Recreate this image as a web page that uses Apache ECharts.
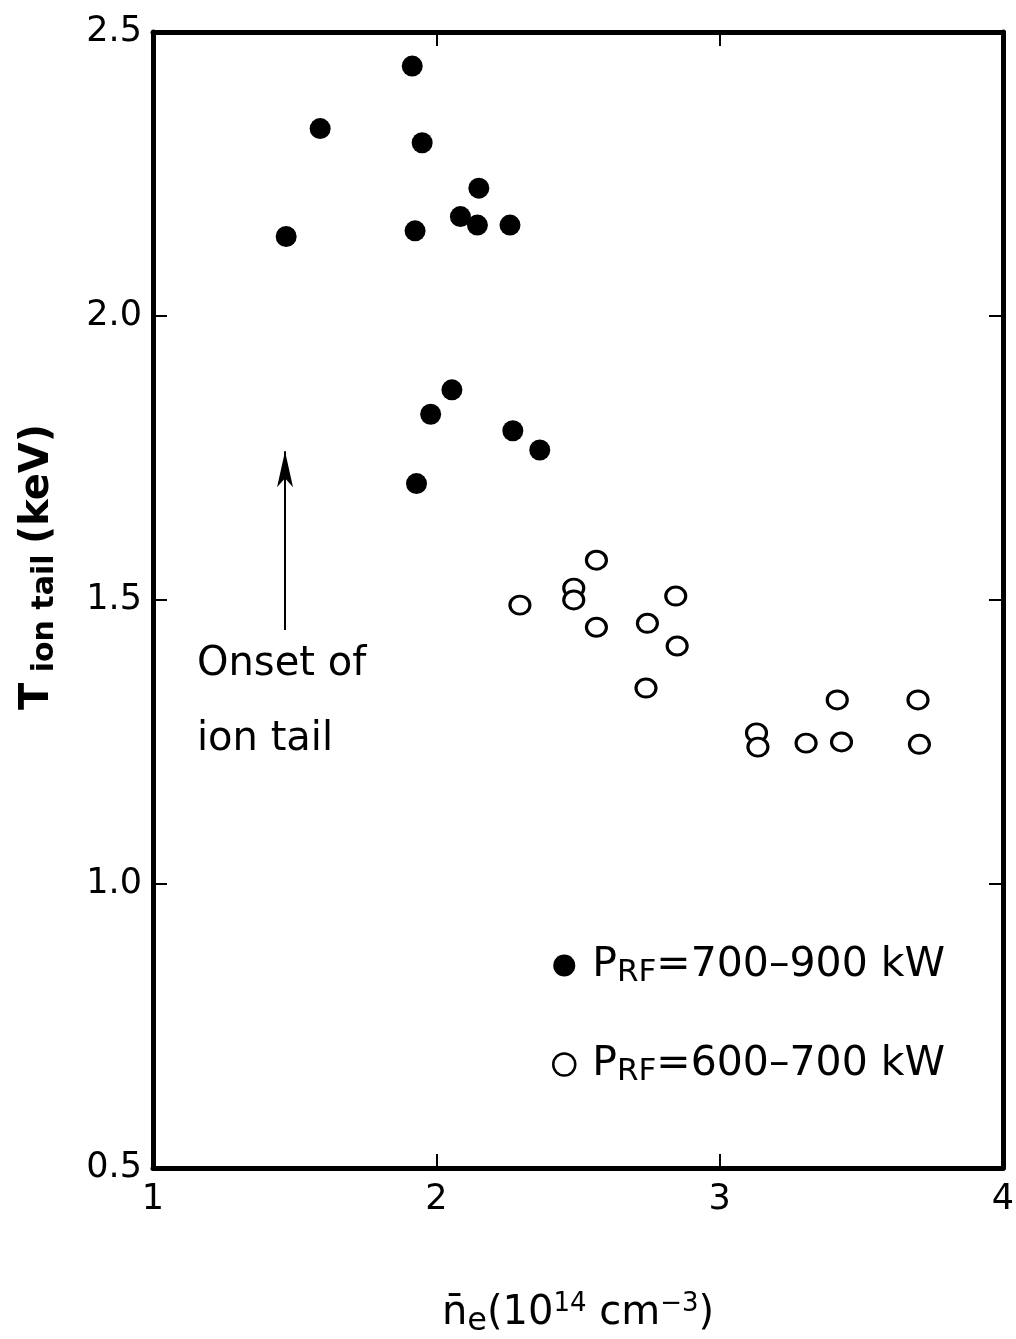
<!DOCTYPE html>
<html>
<head>
<meta charset="utf-8">
<script src="https://cdn.jsdelivr.net/npm/echarts@6/dist/echarts.min.js"></script>
<style>html,body{margin:0;padding:0;background:#fff}#c{width:1016px;height:1339px}</style>
</head>
<body>
<div id="c"></div>
<script>
// Filled circles: P_RF = 700-900 kW  [n_e (1e14 cm^-3), T_ion tail (keV)]
var highPowerX = [1.47, 1.59, 1.915, 1.95, 1.925, 2.085, 2.15, 2.145, 2.26, 1.93, 1.98, 2.055, 2.27, 2.365];
var highPowerY = [2.14, 2.33, 2.44, 2.305, 2.15, 2.175, 2.225, 2.16, 2.16, 1.705, 1.827, 1.87, 1.798, 1.764];
// Open circles: P_RF = 600-700 kW
var lowPowerX = [2.295, 2.485, 2.485, 2.565, 2.565, 2.745, 2.845, 2.85, 2.74, 3.13, 3.135, 3.305, 3.43, 3.415, 3.70, 3.705];
var lowPowerY = [1.491, 1.521, 1.500, 1.570, 1.452, 1.459, 1.507, 1.419, 1.345, 1.266, 1.241, 1.248, 1.250, 1.324, 1.324, 1.246];
var xTicks = [1, 2, 3, 4];
var yTicks = [0.5, 1.0, 1.5, 2.0, 2.5];
var seriesNames = ['P_RF=700–900 kW', 'P_RF=600–700 kW'];
var arrowX = [1.466, 1.466];
var arrowY = [1.447, 1.762];

function zip(a, b) { return a.map(function (v, i) { return [v, b[i]]; }); }

var FONT = 'DejaVu Sans';
var chart = echarts.init(document.getElementById('c'));
var axisCommon = {
  type: 'value',
  axisLine: { show: true, onZero: false, lineStyle: { color: '#000', width: 5 } },
  axisTick: { show: true, inside: true, length: 14, lineStyle: { color: '#000', width: 2 } },
  splitLine: { show: false }
};
chart.setOption({
  backgroundColor: '#fff',
  animation: false,
  grid: { left: 153, top: 32, right: 13, bottom: 171, containLabel: false, outerBoundsMode: 'none' },
  xAxis: [
    Object.assign({}, axisCommon, {
      position: 'bottom', min: 1, max: 4, interval: 1,
      axisLabel: { color: '#000', fontFamily: FONT, fontSize: 35, margin: 14,
        formatter: function (v) { return xTicks.indexOf(v) >= 0 ? String(v) : ''; } },
      name: '{n|n\u0304}{s|e}{n|(10}{sup|14}{n| cm}{sup|−3}{n|)}',
      nameLocation: 'middle', nameGap: 122,
      nameTextStyle: { rich: {
        n: { fontFamily: FONT, fontSize: 40, color: '#000' },
        s: { fontFamily: FONT, fontSize: 32, color: '#000', padding: [16, 0, 0, 0] },
        sup: { fontFamily: FONT, fontSize: 26, color: '#000', padding: [0, 0, 20, 0] }
      } }
    }),
    Object.assign({}, axisCommon, {
      position: 'top', min: 1, max: 4, interval: 1, axisLabel: { show: false }
    })
  ],
  yAxis: [
    Object.assign({}, axisCommon, {
      position: 'left', min: 0.5, max: 2.5, interval: 0.5,
      axisLabel: { color: '#000', fontFamily: FONT, fontSize: 35, margin: 11,
        formatter: function (v) { return yTicks.indexOf(v) >= 0 ? v.toFixed(1) : ''; } },
      name: '{t|T}{s| ion tail }{t|(keV)}',
      nameLocation: 'middle', nameGap: 93, nameRotate: 90,
      nameTextStyle: { padding: [0, 0, 0, 66], rich: {
        t: { fontFamily: FONT, fontSize: 40, color: '#000', fontWeight: 'bold' },
        s: { fontFamily: FONT, fontSize: 30, color: '#000', padding: [14, 0, 0, 0], fontWeight: 'bold' }
      } }
    }),
    Object.assign({}, axisCommon, {
      position: 'right', min: 0.5, max: 2.5, interval: 0.5, axisLabel: { show: false }
    })
  ],
  legend: {
    orient: 'vertical', left: 547, top: 940, itemGap: 56, itemWidth: 22, itemHeight: 22,
    data: [
      { name: seriesNames[0], icon: 'circle', itemStyle: { color: '#000', opacity: 1 } },
      { name: seriesNames[1], icon: 'circle', itemStyle: { color: '#fff', borderColor: '#000', borderWidth: 2.5, opacity: 1 } }
    ],
    formatter: function (name) {
      var parts = name.split('=');
      return '{p0|P}{s|RF}{p|=' + parts[1] + '}';
    },
    textStyle: { rich: {
      p0: { fontFamily: FONT, fontSize: 41, color: '#000', padding: [0, 0, 0, 12] },
      p: { fontFamily: FONT, fontSize: 41, color: '#000' },
      s: { fontFamily: FONT, fontSize: 31, color: '#000', padding: [14, 0, 0, 0] }
    } }
  },
  series: [
    {
      name: seriesNames[0], type: 'scatter', symbol: 'circle', symbolSize: 21,
      itemStyle: { color: '#000', opacity: 1 },
      data: zip(highPowerX, highPowerY),
      markLine: {
        silent: true, symbol: ['none', 'arrow'], symbolSize: [12, 36],
        label: { show: false },
        lineStyle: { color: '#000', width: 2, type: 'solid', opacity: 1 },
        data: [[ { coord: [arrowX[0], arrowY[0]] }, { coord: [arrowX[1], arrowY[1]] } ]]
      }
    },
    {
      name: seriesNames[1], type: 'scatter', symbol: 'circle', symbolSize: [20, 18],
      itemStyle: { color: '#fff', borderColor: '#000', borderWidth: 3, opacity: 1 },
      data: zip(lowPowerX, lowPowerY)
    }
  ],
  graphic: [
    { type: 'text', left: 197, top: 645, style: { text: 'Onset of', font: '40px "DejaVu Sans"', fill: '#000' } },
    { type: 'text', left: 197, top: 720, style: { text: 'ion tail', font: '40px "DejaVu Sans"', fill: '#000' } }
  ]
});
</script>
</body>
</html>
